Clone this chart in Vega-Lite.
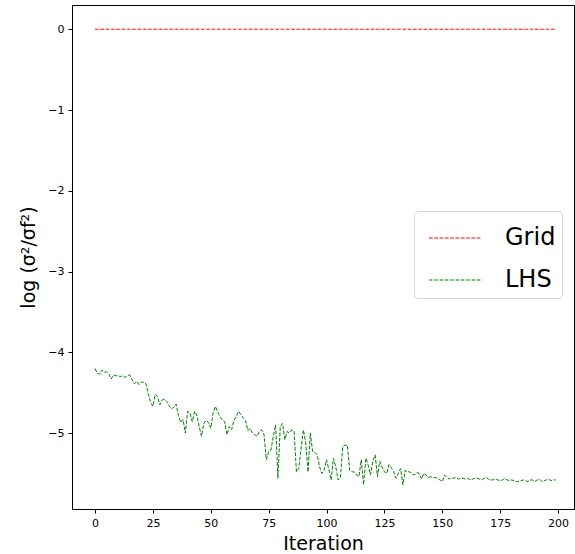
{
  "$schema": "https://vega.github.io/schema/vega-lite/v6.json",
  "autosize": "none",
  "padding": {"left": 72, "top": 5, "right": 1, "bottom": 45},
  "width": 502,
  "height": 504,
  "background": "white",
  "config": {
    "font": "DejaVu Sans",
    "view": {"stroke": "black", "strokeWidth": 1},
    "axis": {"grid": false, "domainColor": "black", "tickColor": "black", "labelColor": "black", "titleColor": "black", "labelFont": "DejaVu Sans", "titleFont": "DejaVu Sans", "labelFontSize": 11, "titleFontSize": 19, "titleFontWeight": "normal", "tickSize": 4, "labelPadding": 4}
  },
  "data": {"values": [
{"i":0,"Grid":0,"LHS":-4.20},{"i":1,"Grid":0,"LHS":-4.26},{"i":2,"Grid":0,"LHS":-4.27},{"i":3,"Grid":0,"LHS":-4.22},{"i":4,"Grid":0,"LHS":-4.25},
{"i":5,"Grid":0,"LHS":-4.24},{"i":6,"Grid":0,"LHS":-4.27},{"i":7,"Grid":0,"LHS":-4.33},{"i":8,"Grid":0,"LHS":-4.28},{"i":9,"Grid":0,"LHS":-4.29},
{"i":10,"Grid":0,"LHS":-4.29},{"i":11,"Grid":0,"LHS":-4.30},{"i":12,"Grid":0,"LHS":-4.29},{"i":13,"Grid":0,"LHS":-4.31},{"i":14,"Grid":0,"LHS":-4.29},
{"i":15,"Grid":0,"LHS":-4.28},{"i":16,"Grid":0,"LHS":-4.34},{"i":17,"Grid":0,"LHS":-4.39},{"i":18,"Grid":0,"LHS":-4.36},{"i":19,"Grid":0,"LHS":-4.40},
{"i":20,"Grid":0,"LHS":-4.37},{"i":21,"Grid":0,"LHS":-4.37},{"i":22,"Grid":0,"LHS":-4.39},{"i":23,"Grid":0,"LHS":-4.51},{"i":24,"Grid":0,"LHS":-4.62},
{"i":25,"Grid":0,"LHS":-4.67},{"i":26,"Grid":0,"LHS":-4.52},{"i":27,"Grid":0,"LHS":-4.55},{"i":28,"Grid":0,"LHS":-4.65},{"i":29,"Grid":0,"LHS":-4.59},
{"i":30,"Grid":0,"LHS":-4.58},{"i":31,"Grid":0,"LHS":-4.61},{"i":32,"Grid":0,"LHS":-4.66},{"i":33,"Grid":0,"LHS":-4.70},{"i":34,"Grid":0,"LHS":-4.68},
{"i":35,"Grid":0,"LHS":-4.64},{"i":36,"Grid":0,"LHS":-4.78},{"i":37,"Grid":0,"LHS":-4.87},{"i":38,"Grid":0,"LHS":-4.83},{"i":39,"Grid":0,"LHS":-5.00},
{"i":40,"Grid":0,"LHS":-4.73},{"i":41,"Grid":0,"LHS":-4.75},{"i":42,"Grid":0,"LHS":-4.86},{"i":43,"Grid":0,"LHS":-4.73},{"i":44,"Grid":0,"LHS":-4.78},
{"i":45,"Grid":0,"LHS":-4.92},{"i":46,"Grid":0,"LHS":-5.04},{"i":47,"Grid":0,"LHS":-4.88},{"i":48,"Grid":0,"LHS":-4.84},{"i":49,"Grid":0,"LHS":-4.87},
{"i":50,"Grid":0,"LHS":-4.94},{"i":51,"Grid":0,"LHS":-4.75},{"i":52,"Grid":0,"LHS":-4.67},{"i":53,"Grid":0,"LHS":-4.74},{"i":54,"Grid":0,"LHS":-4.80},
{"i":55,"Grid":0,"LHS":-4.84},{"i":56,"Grid":0,"LHS":-4.86},{"i":57,"Grid":0,"LHS":-5.02},{"i":58,"Grid":0,"LHS":-4.92},{"i":59,"Grid":0,"LHS":-4.96},
{"i":60,"Grid":0,"LHS":-4.84},{"i":61,"Grid":0,"LHS":-4.80},{"i":62,"Grid":0,"LHS":-4.73},{"i":63,"Grid":0,"LHS":-4.77},{"i":64,"Grid":0,"LHS":-4.81},
{"i":65,"Grid":0,"LHS":-4.84},{"i":66,"Grid":0,"LHS":-4.97},{"i":67,"Grid":0,"LHS":-4.94},{"i":68,"Grid":0,"LHS":-5.00},{"i":69,"Grid":0,"LHS":-5.02},
{"i":70,"Grid":0,"LHS":-5.04},{"i":71,"Grid":0,"LHS":-4.98},{"i":72,"Grid":0,"LHS":-4.96},{"i":73,"Grid":0,"LHS":-5.02},{"i":74,"Grid":0,"LHS":-5.33},
{"i":75,"Grid":0,"LHS":-5.23},{"i":76,"Grid":0,"LHS":-5.21},{"i":77,"Grid":0,"LHS":-5.04},{"i":78,"Grid":0,"LHS":-4.90},{"i":79,"Grid":0,"LHS":-5.56},
{"i":80,"Grid":0,"LHS":-4.92},{"i":81,"Grid":0,"LHS":-4.88},{"i":82,"Grid":0,"LHS":-5.08},{"i":83,"Grid":0,"LHS":-4.98},{"i":84,"Grid":0,"LHS":-5.00},
{"i":85,"Grid":0,"LHS":-4.96},{"i":86,"Grid":0,"LHS":-4.98},{"i":87,"Grid":0,"LHS":-5.48},{"i":88,"Grid":0,"LHS":-5.44},{"i":89,"Grid":0,"LHS":-5.19},
{"i":90,"Grid":0,"LHS":-4.96},{"i":91,"Grid":0,"LHS":-5.12},{"i":92,"Grid":0,"LHS":-5.48},{"i":93,"Grid":0,"LHS":-5.00},{"i":94,"Grid":0,"LHS":-5.23},
{"i":95,"Grid":0,"LHS":-5.24},{"i":96,"Grid":0,"LHS":-5.27},{"i":97,"Grid":0,"LHS":-5.42},{"i":98,"Grid":0,"LHS":-5.50},{"i":99,"Grid":0,"LHS":-5.46},
{"i":100,"Grid":0,"LHS":-5.33},{"i":101,"Grid":0,"LHS":-5.45},{"i":102,"Grid":0,"LHS":-5.58},{"i":103,"Grid":0,"LHS":-5.31},{"i":104,"Grid":0,"LHS":-5.42},
{"i":105,"Grid":0,"LHS":-5.58},{"i":106,"Grid":0,"LHS":-5.55},{"i":107,"Grid":0,"LHS":-5.17},{"i":108,"Grid":0,"LHS":-5.15},{"i":109,"Grid":0,"LHS":-5.15},
{"i":110,"Grid":0,"LHS":-5.46},{"i":111,"Grid":0,"LHS":-5.48},{"i":112,"Grid":0,"LHS":-5.48},{"i":113,"Grid":0,"LHS":-5.52},{"i":114,"Grid":0,"LHS":-5.54},
{"i":115,"Grid":0,"LHS":-5.33},{"i":116,"Grid":0,"LHS":-5.64},{"i":117,"Grid":0,"LHS":-5.31},{"i":118,"Grid":0,"LHS":-5.40},{"i":119,"Grid":0,"LHS":-5.52},
{"i":120,"Grid":0,"LHS":-5.35},{"i":121,"Grid":0,"LHS":-5.27},{"i":122,"Grid":0,"LHS":-5.54},{"i":123,"Grid":0,"LHS":-5.35},{"i":124,"Grid":0,"LHS":-5.42},
{"i":125,"Grid":0,"LHS":-5.48},{"i":126,"Grid":0,"LHS":-5.50},{"i":127,"Grid":0,"LHS":-5.39},{"i":128,"Grid":0,"LHS":-5.43},{"i":129,"Grid":0,"LHS":-5.48},
{"i":130,"Grid":0,"LHS":-5.56},{"i":131,"Grid":0,"LHS":-5.50},{"i":132,"Grid":0,"LHS":-5.44},{"i":133,"Grid":0,"LHS":-5.64},{"i":134,"Grid":0,"LHS":-5.46},
{"i":135,"Grid":0,"LHS":-5.48},{"i":136,"Grid":0,"LHS":-5.48},{"i":137,"Grid":0,"LHS":-5.51},{"i":138,"Grid":0,"LHS":-5.52},{"i":139,"Grid":0,"LHS":-5.49},
{"i":140,"Grid":0,"LHS":-5.50},{"i":141,"Grid":0,"LHS":-5.57},{"i":142,"Grid":0,"LHS":-5.50},{"i":143,"Grid":0,"LHS":-5.52},{"i":144,"Grid":0,"LHS":-5.55},
{"i":145,"Grid":0,"LHS":-5.54},{"i":146,"Grid":0,"LHS":-5.55},{"i":147,"Grid":0,"LHS":-5.55},{"i":148,"Grid":0,"LHS":-5.56},{"i":149,"Grid":0,"LHS":-5.58},
{"i":150,"Grid":0,"LHS":-5.60},{"i":151,"Grid":0,"LHS":-5.52},{"i":152,"Grid":0,"LHS":-5.55},{"i":153,"Grid":0,"LHS":-5.57},{"i":154,"Grid":0,"LHS":-5.55},
{"i":155,"Grid":0,"LHS":-5.56},{"i":156,"Grid":0,"LHS":-5.55},{"i":157,"Grid":0,"LHS":-5.57},{"i":158,"Grid":0,"LHS":-5.56},{"i":159,"Grid":0,"LHS":-5.56},
{"i":160,"Grid":0,"LHS":-5.57},{"i":161,"Grid":0,"LHS":-5.56},{"i":162,"Grid":0,"LHS":-5.58},{"i":163,"Grid":0,"LHS":-5.57},{"i":164,"Grid":0,"LHS":-5.56},
{"i":165,"Grid":0,"LHS":-5.56},{"i":166,"Grid":0,"LHS":-5.57},{"i":167,"Grid":0,"LHS":-5.58},{"i":168,"Grid":0,"LHS":-5.56},{"i":169,"Grid":0,"LHS":-5.55},
{"i":170,"Grid":0,"LHS":-5.57},{"i":171,"Grid":0,"LHS":-5.58},{"i":172,"Grid":0,"LHS":-5.58},{"i":173,"Grid":0,"LHS":-5.57},{"i":174,"Grid":0,"LHS":-5.58},
{"i":175,"Grid":0,"LHS":-5.59},{"i":176,"Grid":0,"LHS":-5.58},{"i":177,"Grid":0,"LHS":-5.56},{"i":178,"Grid":0,"LHS":-5.58},{"i":179,"Grid":0,"LHS":-5.59},
{"i":180,"Grid":0,"LHS":-5.58},{"i":181,"Grid":0,"LHS":-5.59},{"i":182,"Grid":0,"LHS":-5.60},{"i":183,"Grid":0,"LHS":-5.60},{"i":184,"Grid":0,"LHS":-5.59},
{"i":185,"Grid":0,"LHS":-5.58},{"i":186,"Grid":0,"LHS":-5.59},{"i":187,"Grid":0,"LHS":-5.60},{"i":188,"Grid":0,"LHS":-5.58},{"i":189,"Grid":0,"LHS":-5.58},
{"i":190,"Grid":0,"LHS":-5.60},{"i":191,"Grid":0,"LHS":-5.58},{"i":192,"Grid":0,"LHS":-5.57},{"i":193,"Grid":0,"LHS":-5.60},{"i":194,"Grid":0,"LHS":-5.59},
{"i":195,"Grid":0,"LHS":-5.58},{"i":196,"Grid":0,"LHS":-5.57},{"i":197,"Grid":0,"LHS":-5.59},{"i":198,"Grid":0,"LHS":-5.58},{"i":199,"Grid":0,"LHS":-5.58}
  ]},
  "transform": [{"fold": ["Grid", "LHS"], "as": ["series", "value"]}],
  "mark": {"type": "line", "strokeWidth": 1, "strokeDash": [3.7, 1.6], "clip": true},
  "encoding": {
    "x": {"field": "i", "type": "quantitative", "title": "Iteration",
      "scale": {"domain": [-9.95, 206.9], "nice": false, "zero": false},
      "axis": {"values": [0, 25, 50, 75, 100, 125, 150, 175, 200], "titlePadding": 6}},
    "y": {"field": "value", "type": "quantitative", "title": "log (σ²/σf²)",
      "scale": {"domain": [-5.94, 0.30], "nice": false, "zero": false},
      "axis": {"values": [-5, -4, -3, -2, -1, 0], "format": "d", "titlePadding": 9}},
    "color": {"field": "series", "type": "nominal",
      "scale": {"domain": ["Grid", "LHS"], "range": ["#ff0000", "#008000"]},
      "legend": {"title": null, "orient": "none", "legendX": 342, "legendY": 206,
        "symbolType": "M-0.6,0H2.05", "symbolSize": 1600, "symbolDash": [3.7, 1.6], "symbolStrokeWidth": 1.2,
        "labelFontSize": 24, "labelFont": "DejaVu Sans", "labelColor": "black", "labelOffset": 43,
        "rowPadding": 9, "padding": 6, "fillColor": "white", "strokeColor": "#d6d6d6", "cornerRadius": 4,
        "encode": {"symbols": {"update": {"stroke": [{"test": "datum.label === 'Grid'", "value": "#ff0000"}, {"value": "#008000"}]}}}}}
  }
}
